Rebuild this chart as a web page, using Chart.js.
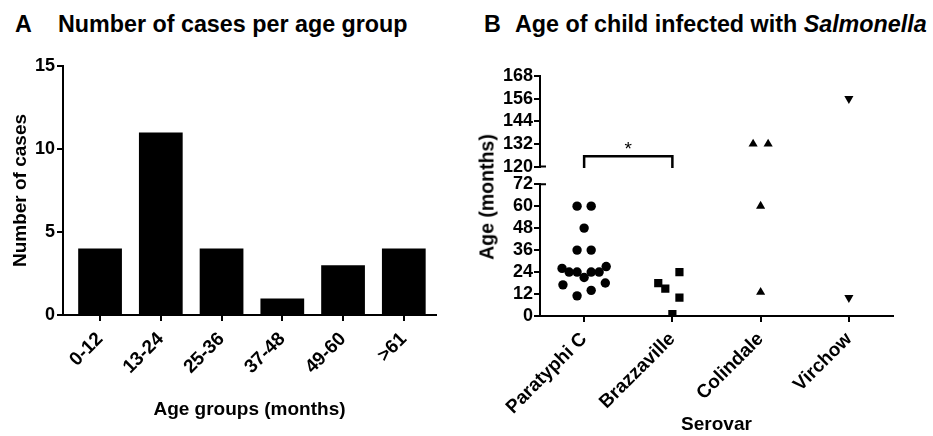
<!DOCTYPE html>
<html>
<head>
<meta charset="utf-8">
<script src="https://cdn.jsdelivr.net/npm/chart.js@4.4.1/dist/chart.umd.min.js"></script>
<style>
html,body{margin:0;padding:0;background:#fff;}
#wrap{position:relative;width:933px;height:436px;overflow:hidden;font-family:"Liberation Sans",Arial,Helvetica,sans-serif;color:#000;}
.t{position:absolute;font-weight:bold;font-size:23.3px;line-height:23px;white-space:nowrap;}
#cA{position:absolute;left:0;top:0;}
#cB{position:absolute;left:466px;top:0;}
#ytB{position:absolute;left:487px;top:197px;transform:translate(-50%,-50%) rotate(-90deg);font-weight:bold;font-size:19.5px;white-space:nowrap;line-height:19px;}
</style>
</head>
<body>
<div id="wrap">
  <div class="t" style="left:15px;top:13px;">A</div>
  <div class="t" style="left:58px;top:13px;">Number of cases per age group</div>
  <div class="t" style="left:484px;top:13px;">B</div>
  <div class="t" style="left:515px;top:13px;">Age of child infected with <i>Salmonella</i></div>
  <canvas id="cA" width="466" height="436"></canvas>
  <canvas id="cB" width="467" height="436"></canvas>
  <div id="ytB">Age (months)</div>
</div>
<script>
// ---------- Panel A data ----------
const ageGroups = ['0-12', '13-24', '25-36', '37-48', '49-60', '>61'];
const casesPerGroup = [4, 11, 4, 1, 3, 4];
const casesTicks = [0, 5, 10, 15];

// ---------- Panel B data ----------
const serovars = ['Paratyphi C', 'Brazzaville', 'Colindale', 'Virchow'];
const paratyphiAges   = [60, 60, 48, 36, 36, 26, 24, 24, 21, 24, 24, 27, 17, 18, 11, 14];
const paratyphiSpread = [-0.08, 0.08, 0, -0.08, 0.08, -0.25, -0.17, -0.08, 0, 0.08, 0.17, 0.25, -0.24, 0.24, -0.08, 0.08];
const brazzavilleAges   = [18, 15, 24, 10, 1];
const brazzavilleSpread = [-0.16, -0.08, 0.08, 0.08, 0];
const colindaleAges   = [132, 132, 60, 13];
const colindaleSpread = [-0.085, 0.085, 0, 0];
const virchowAges   = [156, 10];
const virchowSpread = [0, 0];
const lowerAgeTicks = [0, 12, 24, 36, 48, 60, 72];
const upperAgeTicks = [120, 132, 144, 156, 168];
const significance = {from: 0, to: 1, level: 125.5, label: '*'};

Chart.defaults.font.family = "'Liberation Sans', Arial, Helvetica, sans-serif";
Chart.defaults.font.weight = 'bold';
Chart.defaults.font.size = 18;
Chart.defaults.color = '#000';
Chart.defaults.animation = false;
Chart.defaults.plugins.legend.display = false;
Chart.defaults.plugins.tooltip.enabled = false;

const axisGrid = {display: true, drawOnChartArea: false, drawTicks: true, tickLength: 6, color: '#000', lineWidth: 2, offset: false};
const axisBorder = {display: true, color: '#000', width: 2};

// ---------- Chart A ----------
new Chart(document.getElementById('cA'), {
  type: 'bar',
  data: {
    datasets: [{
      data: casesPerGroup.map((v, i) => ({x: i, y: v})),
      backgroundColor: '#000',
      borderWidth: 0,
      barPercentage: 0.72,
      categoryPercentage: 1
    }]
  },
  options: {
    responsive: false,
    devicePixelRatio: 1,
    layout: {padding: {top: 66, right: 30, left: 0, bottom: 0}},
    scales: {
      x: {
        type: 'linear', min: -0.61, max: 5.53, offset: false,
        afterBuildTicks: s => { s.ticks = ageGroups.map((_, i) => ({value: i})); },
        afterFit: s => { s.height = 121; },
        ticks: {autoSkip: false, maxRotation: 45, minRotation: 45, padding: 7,
                callback: v => ageGroups[v], font: {size: 19}},
        grid: axisGrid, border: axisBorder,
        title: {display: true, text: 'Age groups (months)', font: {size: 19}, padding: {top: 0, bottom: 15}}
      },
      y: {
        min: 0, max: 15,
        afterBuildTicks: s => { s.ticks = casesTicks.map(v => ({value: v})); },
        afterFit: s => { s.width = 63; },
        ticks: {padding: 2, autoSkip: false},
        grid: axisGrid, border: axisBorder,
        title: {display: true, text: 'Number of cases', font: {size: 19}, padding: {top: 9, bottom: 0}}
      }
    }
  }
});

// ---------- Chart B ----------
function segment(ages, spread, idx, upper) {
  return ages.map((a, i) => ({x: idx + spread[i], y: a}))
             .filter(p => upper ? p.y >= 120 : p.y <= 72);
}
const markers = [
  {ages: paratyphiAges, spread: paratyphiSpread, style: 'circle', radius: 4.7, rot: 0},
  {ages: brazzavilleAges, spread: brazzavilleSpread, style: 'rect', radius: 5.8, rot: 0},
  {ages: colindaleAges, spread: colindaleSpread, style: 'triangle', radius: 5.3, rot: 0},
  {ages: virchowAges, spread: virchowSpread, style: 'triangle', radius: 5.3, rot: 180}
];
const dsB = [];
markers.forEach((m, idx) => {
  [false, true].forEach(upper => {
    const pts = segment(m.ages, m.spread, idx, upper);
    if (!pts.length) return;
    dsB.push({
      data: pts, yAxisID: upper ? 'yHigh' : 'yLow', xAxisID: 'x',
      pointStyle: m.style, pointRadius: m.radius, pointRotation: m.rot,
      backgroundColor: '#000', borderColor: '#000', borderWidth: 0, showLine: false
    });
  });
});

const bracketPlugin = {
  id: 'bracket',
  afterDraw(chart) {
    const {ctx, chartArea} = chart;
    const x = chart.scales.x, yH = chart.scales.yHigh, yL = chart.scales.yLow;
    ctx.save();
    ctx.strokeStyle = '#000';
    ctx.lineWidth = 2;
    // axis break marks
    const ax = chartArea.left;
    ctx.beginPath();
    ctx.moveTo(ax, yH.getPixelForValue(120)); ctx.lineTo(ax + 6, yH.getPixelForValue(120));
    ctx.moveTo(ax, yL.getPixelForValue(72)); ctx.lineTo(ax + 6, yL.getPixelForValue(72));
    ctx.stroke();
    // significance bracket
    const x0 = x.getPixelForValue(significance.from), x1 = x.getPixelForValue(significance.to);
    const yb = yH.getPixelForValue(significance.level), yl = yH.getPixelForValue(120) + 1.5;
    ctx.lineWidth = 2.5;
    ctx.beginPath();
    ctx.moveTo(x0, yl); ctx.lineTo(x0, yb); ctx.lineTo(x1, yb); ctx.lineTo(x1, yl);
    ctx.stroke();
    ctx.fillStyle = '#000';
    ctx.font = "normal 19px 'Liberation Sans', Arial, sans-serif";
    ctx.textAlign = 'center';
    ctx.textBaseline = 'alphabetic';
    ctx.fillText(significance.label, (x0 + x1) / 2, yb - 1);
    ctx.restore();
  }
};

new Chart(document.getElementById('cB'), {
  type: 'scatter',
  data: {datasets: dsB},
  plugins: [bracketPlugin],
  options: {
    responsive: false,
    devicePixelRatio: 1,
    layout: {padding: {top: 76, right: 40, left: 0, bottom: 0}},
    scales: {
      x: {
        type: 'linear', min: -0.5, max: 3.5,
        afterBuildTicks: s => { s.ticks = serovars.map((_, i) => ({value: i})); },
        afterFit: s => { s.height = 120; },
        ticks: {autoSkip: false, maxRotation: 45, minRotation: 45, padding: 6,
                callback: v => serovars[v], font: {size: 19}},
        grid: axisGrid, border: axisBorder,
        title: {display: true, text: 'Serovar', font: {size: 19}, padding: {top: 0, bottom: 0}}
      },
      yLow: {
        type: 'linear', position: 'left', stack: 'age', stackWeight: 132, weight: 1,
        min: 0, max: 72,
        afterBuildTicks: s => { s.ticks = lowerAgeTicks.map(v => ({value: v})); },
        afterFit: s => { s.width = 74; },
        ticks: {padding: 1, autoSkip: false},
        grid: axisGrid, border: axisBorder
      },
      yGap: {
        type: 'linear', position: 'left', stack: 'age', stackWeight: 17.6, weight: 2,
        afterFit: s => { s.width = 74; },
        ticks: {display: false},
        grid: {display: false}, border: {display: false}
      },
      yHigh: {
        type: 'linear', position: 'left', stack: 'age', stackWeight: 90.7, weight: 3,
        min: 120, max: 168,
        afterBuildTicks: s => { s.ticks = upperAgeTicks.map(v => ({value: v})); },
        afterFit: s => { s.width = 74; },
        ticks: {padding: 1, autoSkip: false},
        grid: axisGrid, border: axisBorder
      }
    }
  }
});
</script>
</body>
</html>
